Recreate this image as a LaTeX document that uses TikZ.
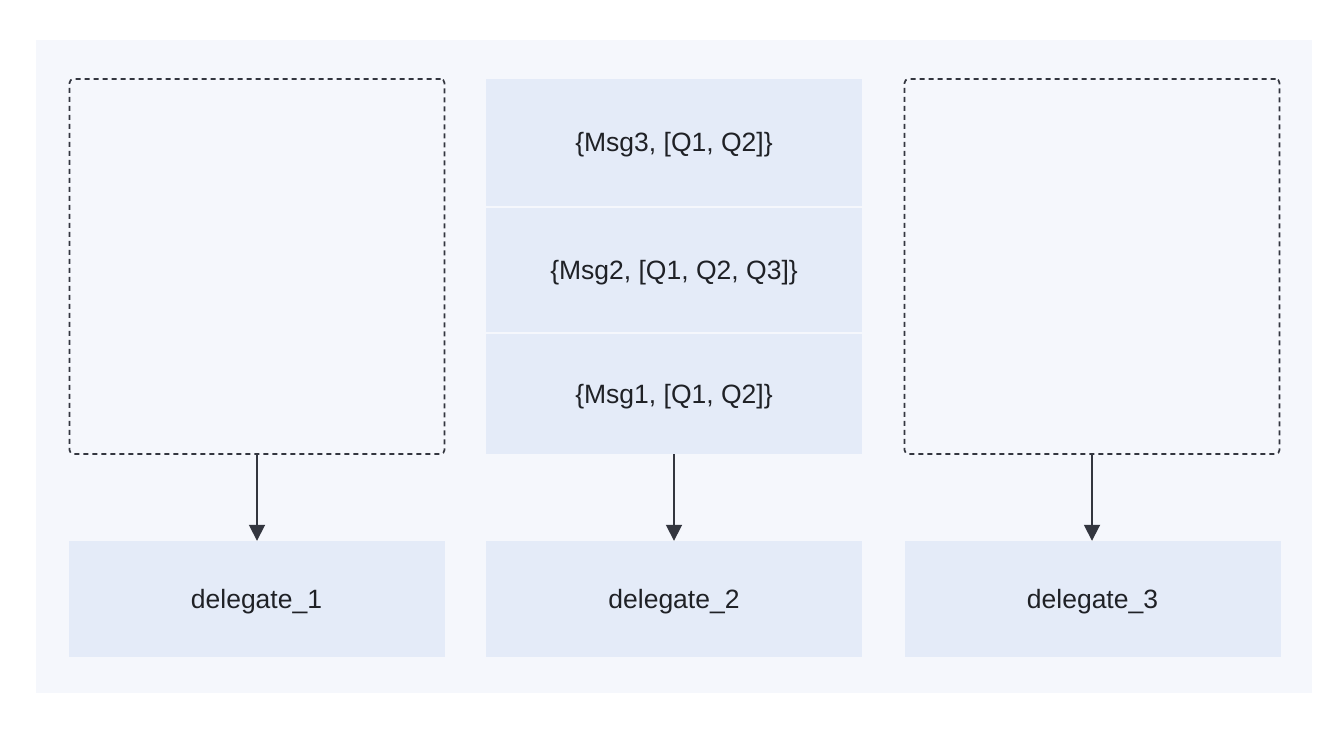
\documentclass[tikz,border=0pt]{standalone}
\usepackage{fontspec}
\setmainfont{Liberation Sans}
\usetikzlibrary{arrows.meta}
\definecolor{panelbg}{HTML}{F5F7FC}
\definecolor{cellbg}{HTML}{E4EBF8}
\definecolor{linec}{HTML}{33363F}
\definecolor{textc}{HTML}{1F2126}
\tikzset{
  cell/.style={fill=cellbg, draw=none, minimum width=376pt, inner sep=0pt, font=\fontsize{26.5}{30}\selectfont, text=textc, text height=22pt, text depth=3pt},
  holder/.style={draw=linec, line width=1.7pt, dash pattern=on 5pt off 4pt, rounded corners=4pt, fill=panelbg, minimum width=375pt, minimum height=375pt, inner sep=0pt},
  conn/.style={draw=linec, line width=1.8pt, -{Triangle[length=16pt,width=16pt]}}
}
\begin{document}
\begin{tikzpicture}[x=1pt,y=-1pt]
\useasboundingbox (0,0) rectangle (1342,730);
\fill[white] (0,0) rectangle (1342,730);
\fill[panelbg] (36,40) rectangle (1312,693);
% dashed holders
\node[holder] (h1) at (257,266.5) {};
\node[holder] (h3) at (1092,266.5) {};
% middle stack
\node[cell, minimum height=127pt] (m3) at (674,142.5) {\{Msg3, [Q1, Q2]\}};
\node[cell, minimum height=124pt] (m2) at (674,270) {\{Msg2, [Q1, Q2, Q3]\}};
\node[cell, minimum height=120pt] (m1) at (674,394) {\{Msg1, [Q1, Q2]\}};
% delegates
\node[cell, minimum height=116pt] (d1) at (256.5,599) {delegate\_1};
\node[cell, minimum height=116pt] (d2) at (674,599) {delegate\_2};
\node[cell, minimum height=116pt] (d3) at (1092.5,599) {delegate\_3};
% connectors
\draw[conn] (h1.south) -- (d1.north -| h1.south);
\draw[conn] (m1.south) -- (d2.north);
\draw[conn] (h3.south) -- (d3.north -| h3.south);
\end{tikzpicture}
\end{document}
